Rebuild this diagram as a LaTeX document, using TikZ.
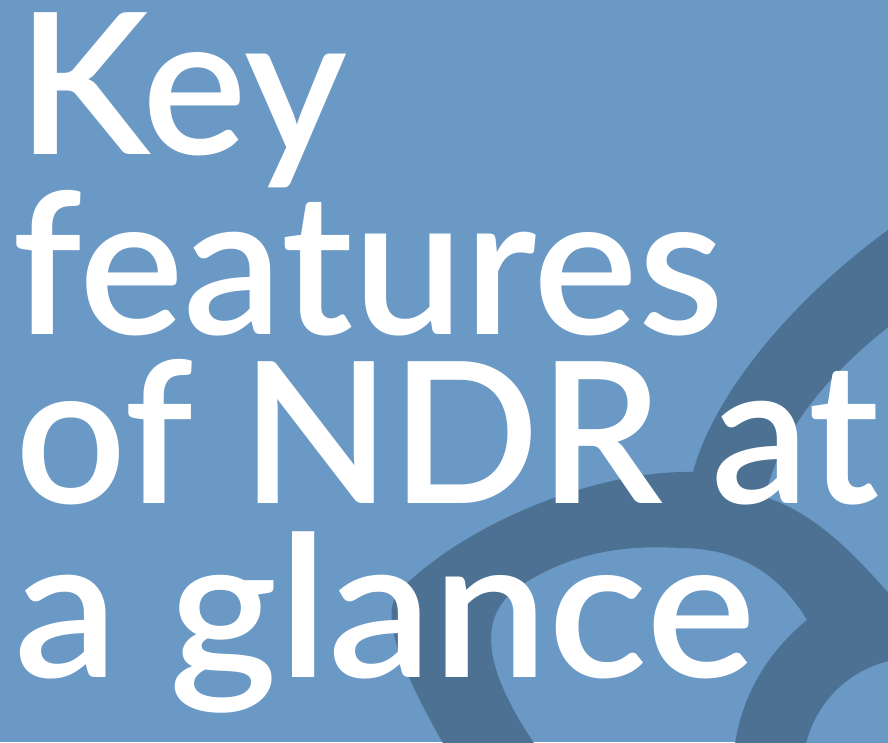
\documentclass[tikz,border=0pt]{standalone}
\usepackage{graphicx}
\usepackage{fontspec}
\newfontfamily\titlefont{Lato Semibold}
\definecolor{bgblue}{HTML}{6999C4}
\definecolor{darkblue}{HTML}{4C7193}
\tikzset{
  title/.style={anchor=base west, inner sep=0pt, text=white, font=\fontsize{197}{197}\selectfont\titlefont},
  band/.style={fill=darkblue},
  hole/.style={fill=bgblue}
}
\begin{document}
\begin{tikzpicture}[x=1pt,y=-1pt]
\useasboundingbox (0,0) rectangle (888,742);
\fill[bgblue] (0,0) rectangle (888,742);
\begin{scope}
\clip (0,0) rectangle (888,742);
\fill[band]
  (905,218) .. controls (800,290) and (715,390) .. (693,472)
  .. controls (600,470) and (470,520) .. (400,590)
  .. controls (380,612) and (395,660) .. (448,752)
  -- (540,752)
  .. controls (490,680) and (470,620) .. (520,586)
  .. controls (575,550) and (630,545) .. (680,548)
  .. controls (740,548) and (780,575) .. (807,620)
  .. controls (770,650) and (740,695) .. (734,752)
  -- (905,752) -- (905,612)
  .. controls (860,560) and (820,515) .. (765,497)
  .. controls (780,430) and (830,370) .. (905,314)
  -- cycle;
\fill[hole] (915,770) circle (112);
\end{scope}
\node[title] (l1) at (17,154) {Key};
\node[title] (l2) at (12,334) {features};
\node[title] (l3) at (15,503) {\resizebox{864pt}{\height}{of NDR at}};
\node[title] (l4) at (14,677) {\resizebox{741pt}{\height}{a glance}};
\end{tikzpicture}
\end{document}
